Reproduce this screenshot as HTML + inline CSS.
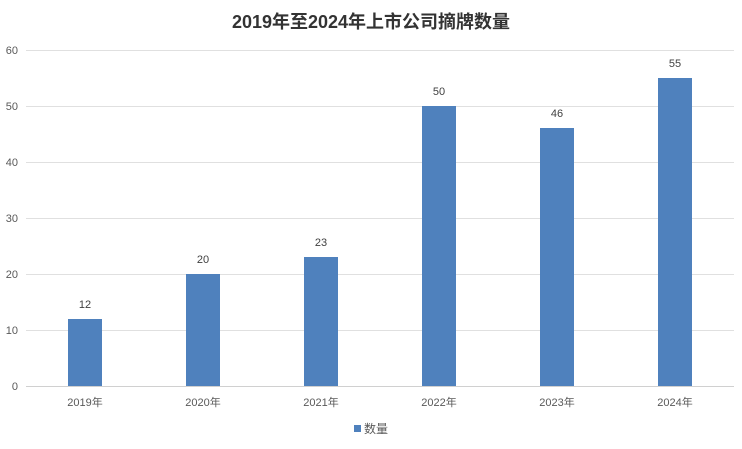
<!DOCTYPE html>
<html><head><meta charset="utf-8"><style>
body{margin:0;background:#fff;}
text{font-family:"Liberation Sans","Noto Sans CJK SC",sans-serif;}
</style></head><body>
<svg width="742" height="444" viewBox="0 0 742 444" xmlns="http://www.w3.org/2000/svg">
<rect width="742" height="444" fill="#fff"/>
<text x="371" y="28" text-anchor="middle" font-size="18" font-weight="bold" fill="#333">2019年至2024年上市公司摘牌数量</text>
<g stroke="#e0e0e0" stroke-width="1">
<line x1="26" x2="734" y1="50.5" y2="50.5"/>
<line x1="26" x2="734" y1="106.5" y2="106.5"/>
<line x1="26" x2="734" y1="162.5" y2="162.5"/>
<line x1="26" x2="734" y1="218.5" y2="218.5"/>
<line x1="26" x2="734" y1="274.5" y2="274.5"/>
<line x1="26" x2="734" y1="330.5" y2="330.5"/>
</g>
<g font-size="11" fill="#595959" text-anchor="end">
<text x="18" y="54">60</text><text x="18" y="110">50</text><text x="18" y="166">40</text>
<text x="18" y="222">30</text><text x="18" y="278">20</text><text x="18" y="334">10</text><text x="18" y="390">0</text>
</g>
<g fill="#4f81bd">
<rect x="68" y="319" width="34" height="67"/>
<rect x="186" y="274" width="34" height="112"/>
<rect x="304" y="257" width="34" height="129"/>
<rect x="422" y="106" width="34" height="280"/>
<rect x="540" y="128" width="34" height="258"/>
<rect x="658" y="78" width="34" height="308"/>
</g>
<line x1="26" x2="734" y1="386.5" y2="386.5" stroke="#d0d0d0"/>
<g font-size="11" fill="#404040" text-anchor="middle">
<text x="85" y="308">12</text><text x="203" y="263">20</text><text x="321" y="246">23</text>
<text x="439" y="95">50</text><text x="557" y="117">46</text><text x="675" y="67">55</text>
</g>
<g font-size="11" fill="#595959" text-anchor="middle">
<text x="85" y="406">2019年</text><text x="203" y="406">2020年</text><text x="321" y="406">2021年</text>
<text x="439" y="406">2022年</text><text x="557" y="406">2023年</text><text x="675" y="406">2024年</text>
</g>
<rect x="354" y="425" width="7" height="7" fill="#4f81bd"/>
<text x="364" y="433" font-size="12" fill="#595959">数量</text>
</svg>
</body></html>
